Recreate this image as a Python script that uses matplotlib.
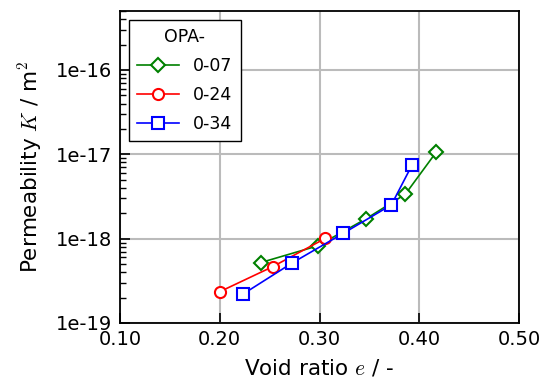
import matplotlib
matplotlib.use("Agg")
import matplotlib.pyplot as plt
from matplotlib.ticker import FixedLocator, LogLocator, NullFormatter

plt.rcParams['font.family'] = ['DejaVu Sans']
plt.rcParams['mathtext.fontset'] = 'cm'

e_07 = [0.241, 0.298, 0.347, 0.386, 0.417]
K_07 = [5.2e-19, 8.2e-19, 1.73e-18, 3.36e-18, 1.06e-17]
e_24 = [0.200, 0.253, 0.306]
K_24 = [2.35e-19, 4.65e-19, 1.01e-18]
e_34 = [0.223, 0.272, 0.324, 0.372, 0.393]
K_34 = [2.19e-19, 5.1e-19, 1.16e-18, 2.51e-18, 7.55e-18]

xticks = [0.10, 0.20, 0.30, 0.40, 0.50]
yticks = [1e-19, 1e-18, 1e-17, 1e-16]
ytick_labels = ['1e-19', '1e-18', '1e-17', '1e-16']

fig = plt.figure(figsize=(5.49, 3.90), dpi=100)
ax = fig.add_axes([120/549, 1-323/390, 399/549, 312/390])

ax.plot(e_07, K_07, color='green', marker='D', mfc='white', mec='green', ms=7.5, mew=1.5, lw=1.2, label='0-07', zorder=3)
ax.plot(e_24, K_24, color='red', marker='o', mfc='white', mec='red', ms=8, mew=1.5, lw=1.2, label='0-24', zorder=3)
ax.plot(e_34, K_34, color='blue', marker='s', mfc='white', mec='blue', ms=8, mew=1.5, lw=1.2, label='0-34', zorder=3)

ax.set_yscale('log')
ax.set_xlim(0.10, 0.50)
ax.set_ylim(1e-19, 5e-16)
ax.set_xticks(xticks)
ax.set_xticklabels(['%.2f' % v for v in xticks])
ax.yaxis.set_major_locator(FixedLocator(yticks))
ax.set_yticklabels(ytick_labels)
ax.yaxis.set_minor_locator(LogLocator(base=10, subs=range(2, 10), numticks=20))
ax.yaxis.set_minor_formatter(NullFormatter())

ax.tick_params(axis='both', which='major', direction='in', labelsize=14, length=7, width=1.2)
ax.tick_params(axis='y', which='major', pad=6)
ax.tick_params(axis='x', which='major', pad=5)
ax.tick_params(axis='y', which='minor', direction='in', length=4, width=1.0)
ax.grid(True, which='major', color='#bbbbbb', lw=1.5, zorder=0)
ax.set_axisbelow(True)
for s in ax.spines.values():
    s.set_linewidth(1.3)

ax.set_xlabel('Void ratio $e$ / -', fontsize=15.5, labelpad=6)
ax.set_ylabel('Permeability $K$ / m$^2$', fontsize=15.5, labelpad=8)

leg = ax.legend(title='OPA-', loc='upper left', fontsize=12.5, title_fontsize=12.5,
                fancybox=False, edgecolor='black', framealpha=1, borderaxespad=0.5,
                handlelength=2.4, handletextpad=0.8, labelspacing=0.62, borderpad=0.5)
leg.get_frame().set_linewidth(1.0)

fig.savefig('out.png', dpi=100)
